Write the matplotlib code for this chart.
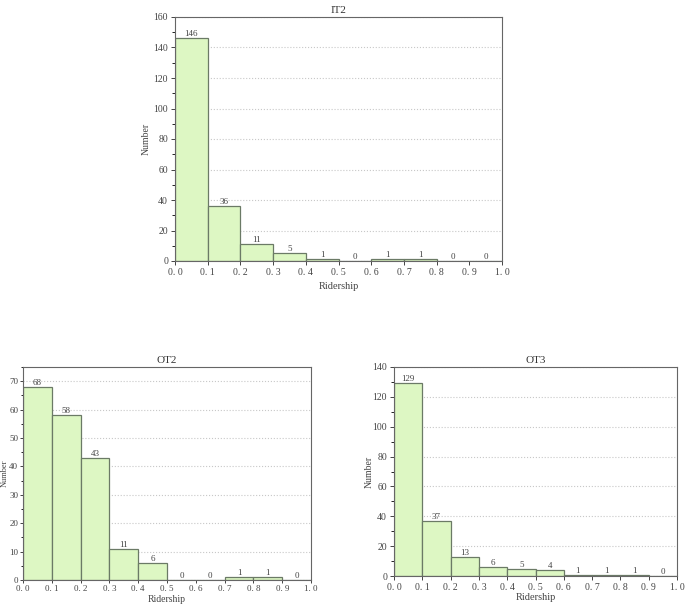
import numpy as np
import matplotlib
matplotlib.use("Agg")
import matplotlib.pyplot as plt
from matplotlib.ticker import MultipleLocator

plt.rcParams['font.family'] = ['Liberation Serif', 'DejaVu Serif']

bins = np.round(np.arange(0, 1.01, 0.1), 1)
xtick_labels = ["0. 0", "0. 1", "0. 2", "0. 3", "0. 4", "0. 5", "0. 6", "0. 7", "0. 8", "0. 9", "1. 0"]

it2_counts = [146, 36, 11, 5, 1, 0, 1, 1, 0, 0]
ot2_counts = [68, 58, 43, 11, 6, 0, 0, 1, 1, 0]
ot3_counts = [129, 37, 13, 6, 5, 4, 1, 1, 1, 0]

fill = "#ddf7c3"
edge = "#6b7a66"

fig = plt.figure(figsize=(6.85, 6.07), dpi=100)
W, H = 685, 607


def make_ax(l, t, r, b):
    return fig.add_axes([l / W, 1 - b / H, (r - l) / W, (b - t) / H])


def draw(ax, counts, title, ymax, ystep, ylab_x, xlab_y, small=False):
    ax.bar(bins[:-1], counts, width=0.1, align="edge", color=fill,
           edgecolor=edge, linewidth=0.9, zorder=2)
    for x, c in zip(bins[:-1], counts):
        ax.text(x + 0.05, c, str(c), ha="center", va="bottom", fontsize=6.5,
                color="#444444", zorder=3)
    ax.set_xlim(0, 1)
    ax.set_ylim(0, ymax)
    ax.set_xticks(bins)
    ax.set_xticklabels(xtick_labels)
    ax.yaxis.set_major_locator(MultipleLocator(ystep))
    ax.yaxis.set_minor_locator(MultipleLocator(ystep / 2))
    ax.grid(axis="y", linestyle=":", color="#c8c8c8", linewidth=0.8, zorder=0)
    ax.tick_params(labelsize=6.5 if small else 7, colors="#444444",
                   length=2 if small else 3, width=0.7, pad=1.5 if small else 2)
    ax.tick_params(which="minor", length=1.5 if small else 2, width=0.6)
    for s in ax.spines.values():
        s.set_color("#666666")
        s.set_linewidth(0.8)
    ax.set_title(title, fontsize=8, pad=3, color="#333333")
    ax.set_xlabel("Ridership", fontsize=7 if small else 7.5, color="#444444")
    ax.set_ylabel("Number", fontsize=6 if small else 7, color="#444444")
    ax.yaxis.set_label_coords(ylab_x, 0.5)
    ax.xaxis.set_label_coords(0.5, xlab_y)


ax1 = make_ax(175, 17, 502, 261)
draw(ax1, it2_counts, "IT2", 160, 20, -0.073, -0.086)

ax2 = make_ax(23, 367, 311, 580)
draw(ax2, ot2_counts, "OT2", 75, 10, -0.05, -0.07, small=True)

ax3 = make_ax(394, 367, 677, 576)
draw(ax3, ot3_counts, "OT3", 140, 20, -0.071, -0.081)

fig.savefig("out.png", dpi=100)
